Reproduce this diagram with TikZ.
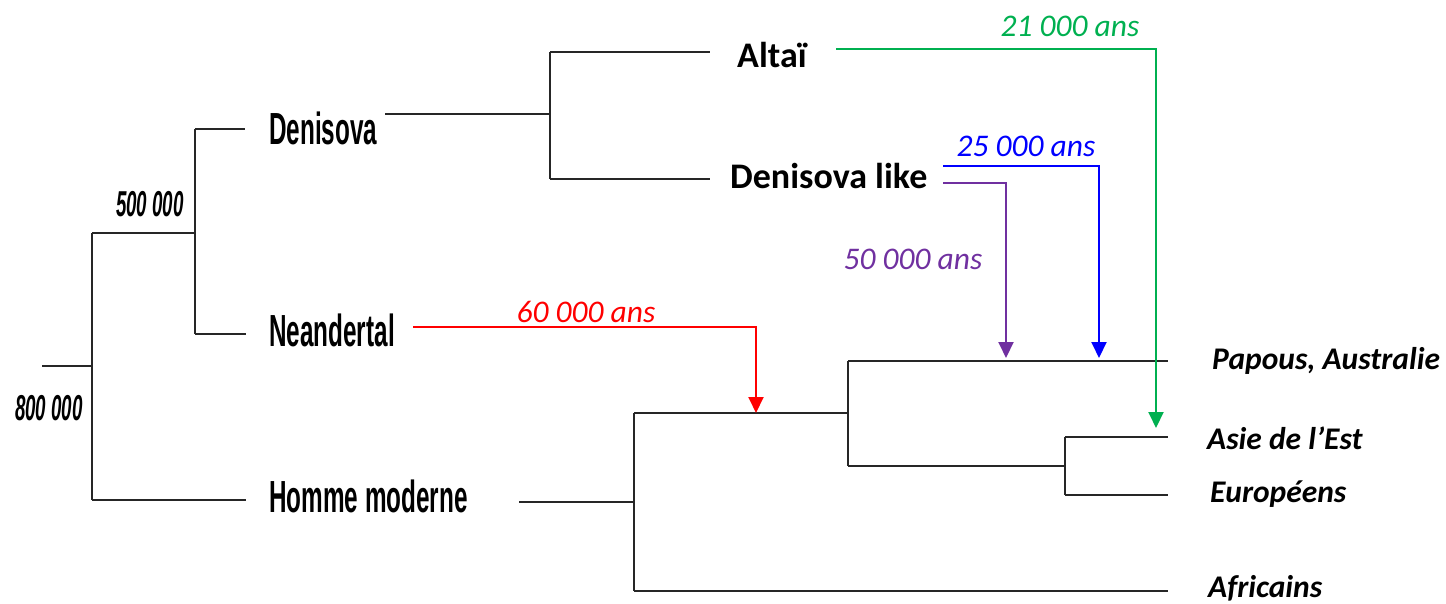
\documentclass[tikz,border=0pt]{standalone}
\usepackage{fontspec}
\setmainfont{Carlito}
\newfontfamily\condfont[FakeStretch=0.54]{Liberation Sans}
\newfontfamily\conddate[FakeStretch=0.52]{Liberation Sans}
\usetikzlibrary{arrows.meta}
\tikzset{
  tree/.style={line width=1.6pt, black!85},
  gene/.style={line width=2pt, -{Triangle[length=16pt,width=15pt]}},
  oldlab/.style={anchor=west, inner sep=0pt, font=\condfont\bfseries\fontsize{45}{50}\selectfont},
  datelab/.style={inner sep=0pt, font=\conddate\bfseries\itshape\fontsize{36}{40}\selectfont},
  poplab/.style={anchor=west, inner sep=0pt, font=\bfseries\itshape\fontsize{31.5}{36}\selectfont},
  archlab/.style={anchor=west, inner sep=0pt, font=\bfseries\fontsize{36}{40}\selectfont},
  agelab/.style={inner sep=0pt, font=\itshape\fontsize{31.5}{36}\selectfont},
}
\begin{document}
\begin{tikzpicture}[x=1pt, y=-1pt]
\useasboundingbox (0,0) rectangle (1446,604);

% ---- archaic lineages ----
\node[oldlab] (den) at (269,128) {Denisova};
\node[oldlab] (nea) at (269,330) {Neandertal};
\node[oldlab] (hm)  at (269,496) {Homme moderne};
\node[datelab] (d800) at (49,408) {800 000};
\node[datelab] (d500) at (150,204) {500 000};

\coordinate (root) at (42,366);
\coordinate (s800) at (92,366);
\coordinate (s800t) at (92,233);
\coordinate (s800b) at (92,500);
\coordinate (s500) at (195,233);
\coordinate (s500t) at (195,129);
\coordinate (s500b) at (195,334);

\draw[tree] (root) -- (s800);
\draw[tree] (s800t) -- (s800b);
\draw[tree] (s800t) -- (s500);
\draw[tree] (s500t) -- (s500b);
\draw[tree] (s500t) -- (245,129);
\draw[tree] (s500b) -- (246,334);
\draw[tree] (s800b) -- (246,500);

% ---- Denisovan split ----
\node[archlab] (alt) at (737,55) {Altaï};
\node[archlab] (dl)  at (730,176) {Denisova like};

\coordinate (dstart) at (385,114);
\coordinate (sden) at (550,114);
\coordinate (sdent) at (550,52);
\coordinate (sdenb) at (550,179);
\draw[tree] (dstart) -- (sden);
\draw[tree] (sdent) -- (sdenb);
\draw[tree] (sdent) -- (710,52);
\draw[tree] (sdenb) -- (710,179);

% ---- modern populations ----
\node[poplab] (pap) at (1212,361) {Papous, Australie};
\node[poplab] (asi) at (1207,438) {Asie de l’Est};
\node[poplab] (eur) at (1210,494) {Européens};
\node[poplab] (afr) at (1208,588) {Africains};

\coordinate (hstart) at (519,502);
\coordinate (sh) at (634,502);
\coordinate (sht) at (634,413);
\coordinate (shb) at (634,591);
\coordinate (sooa) at (848,413);
\coordinate (sooat) at (848,361);
\coordinate (sooab) at (848,466);
\coordinate (seu) at (1065,466);
\coordinate (seut) at (1065,437);
\coordinate (seub) at (1065,495);

\draw[tree] (hstart) -- (sh);
\draw[tree] (sht) -- (shb);
\draw[tree] (sht) -- (sooa);
\draw[tree] (sooat) -- (sooab);
\draw[tree] (sooat) -- (1168,361);
\draw[tree] (sooab) -- (seu);
\draw[tree] (seut) -- (seub);
\draw[tree] (seut) -- (1168,437);
\draw[tree] (seub) -- (1168,495);
\draw[tree] (shb) -- (1168,591);

% ---- introgression arrows ----
\coordinate (gA) at (836,49);
\coordinate (gAe) at (1156,428);
\coordinate (gB) at (943,166);
\coordinate (gBe) at (1099,358);
\coordinate (gP) at (943,183);
\coordinate (gPe) at (1006,358);
\coordinate (gN) at (413,327);
\coordinate (gNe) at (756,413);

\draw[gene, color={rgb,255:red,0;green,176;blue,80}] (gA) -| (gAe);
\draw[gene, color=blue] (gB) -| (gBe);
\draw[gene, color={rgb,255:red,112;green,48;blue,160}] (gP) -| (gPe);
\draw[gene, color=red] (gN) -| (gNe);

\node[agelab, text={rgb,255:red,0;green,176;blue,80}] (l21) at (1070,26) {21 000 ans};
\node[agelab, text=blue] (l25) at (1026,146) {25 000 ans};
\node[agelab, text={rgb,255:red,112;green,48;blue,160}] (l50) at (913,259) {50 000 ans};
\node[agelab, text=red] (l60) at (586,312) {60 000 ans};
\end{tikzpicture}
\end{document}
